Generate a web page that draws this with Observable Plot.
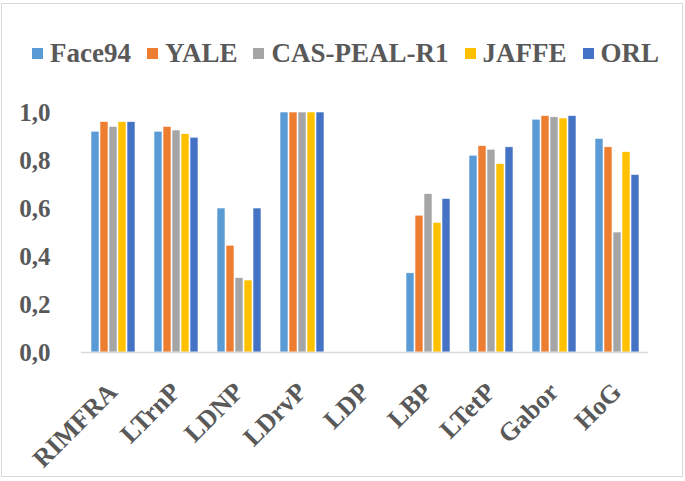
<!DOCTYPE html>
<html>
<head>
<meta charset="utf-8">
<script src="https://cdn.jsdelivr.net/npm/d3@7"></script>
<script src="https://cdn.jsdelivr.net/npm/@observablehq/plot@0.6"></script>
<style>
  html, body { margin: 0; padding: 0; background: #fff; }
  #wrap { position: relative; width: 685px; height: 481px; overflow: hidden; background: #fff; }
  #frame { position: absolute; left: 1px; top: 3px; width: 680px; height: 472px; border: 1.5px solid #d9d9d9; pointer-events: none; }
  #legend { height: 80px; display: flex; justify-content: center; align-items: center; padding-top: 27px; box-sizing: border-box;
    font-family: "Liberation Serif", "Times New Roman", serif; font-weight: bold; font-size: 27px; color: #595959; padding-left: 6px; }
  .item { display: flex; align-items: center; margin: 0 8px; }
  .sw { width: 11px; height: 11px; margin-right: 7px; }
</style>
</head>
<body>
<div id="wrap">
  <div id="legend"></div>
  <div id="chart"></div>
  <div id="frame"></div>
</div>
<script>
const categories = ["RIMFRA", "LTrnP", "LDNP", "LDrvP", "LDP", "LBP", "LTetP", "Gabor", "HoG"];
const series = ["Face94", "YALE", "CAS-PEAL-R1", "JAFFE", "ORL"];
const colors = ["#5B9BD5", "#ED7D31", "#A5A5A5", "#FFC000", "#4472C4"];
const face94 = [0.92, 0.92, 0.60, 1.00, 0, 0.33, 0.82, 0.97, 0.89];
const yale   = [0.96, 0.94, 0.445, 1.00, 0, 0.57, 0.86, 0.985, 0.855];
const casPeal= [0.94, 0.925, 0.31, 1.00, 0, 0.66, 0.845, 0.98, 0.50];
const jaffe  = [0.96, 0.91, 0.30, 1.00, 0, 0.54, 0.785, 0.975, 0.835];
const orl    = [0.96, 0.895, 0.60, 1.00, 0, 0.64, 0.855, 0.985, 0.74];
const yTicks = [0, 0.2, 0.4, 0.6, 0.8, 1.0];

// pick an installed serif font
const cv = document.createElement("canvas").getContext("2d");
function w(f) { cv.font = "bold 30px " + f; return cv.measureText("RIMFRA Face94 LTetP wig").width; }
const candidates = ["'Liberation Serif'", "'Times New Roman'", "'DejaVu Serif'", "'Noto Serif'", "Tinos", "serif"];
let serifFont = "serif";
for (const c of candidates) {
  const a = w(c + ", monospace"), b = w(c + ", sans-serif");
  if (a === b) { serifFont = c; break; }
}
const fontStack = serifFont + ", serif";

const seriesValues = [face94, yale, casPeal, jaffe, orl];
const data = [];
categories.forEach((c, i) => {
  series.forEach((s, j) => data.push({category: c, series: s, value: seriesValues[j][i]}));
});

const legend = document.getElementById("legend");
legend.style.fontFamily = fontStack;
series.forEach((s, j) => {
  const it = document.createElement("div");
  it.className = "item";
  it.innerHTML = `<div class="sw" style="background:${colors[j]}"></div><span style="font-family:${fontStack.replace(/"/g, "'")}">${s}</span>`;
  legend.appendChild(it);
});

const chart = Plot.plot({
  width: 685,
  height: 401,
  marginLeft: 77,
  marginRight: 33,
  marginTop: 32,
  marginBottom: 129,
  style: {fontFamily: fontStack, fontSize: "25px", fontWeight: "bold", color: "#595959", background: "transparent"},
  fx: {domain: categories, padding: 0, label: null, axis: "bottom", tickRotate: -45, tickSize: 0, tickPadding: 35},
  x: {domain: series, paddingInner: 0.15, paddingOuter: 0.87, axis: null},
  y: {domain: [0, 1], ticks: yTicks, tickFormat: d => d3.format(".1f")(d).replace(".", ","), tickSize: 0, tickPadding: 31, label: null},
  color: {domain: series, range: colors},
  marks: [
    Plot.barY(data, {fx: "category", x: "series", y: "value", fill: "series", stroke: "#ffffff", strokeWidth: 0.6}),
    Plot.ruleY([0], {stroke: "#d9d9d9", strokeWidth: 1.5})
  ]
});
chart.querySelectorAll("[aria-label='fx-axis tick label'] text, g[aria-label='fx-axis'] text").forEach(t => t.style.fontSize = "26px");
document.getElementById("chart").appendChild(chart);
</script>
</body>
</html>
